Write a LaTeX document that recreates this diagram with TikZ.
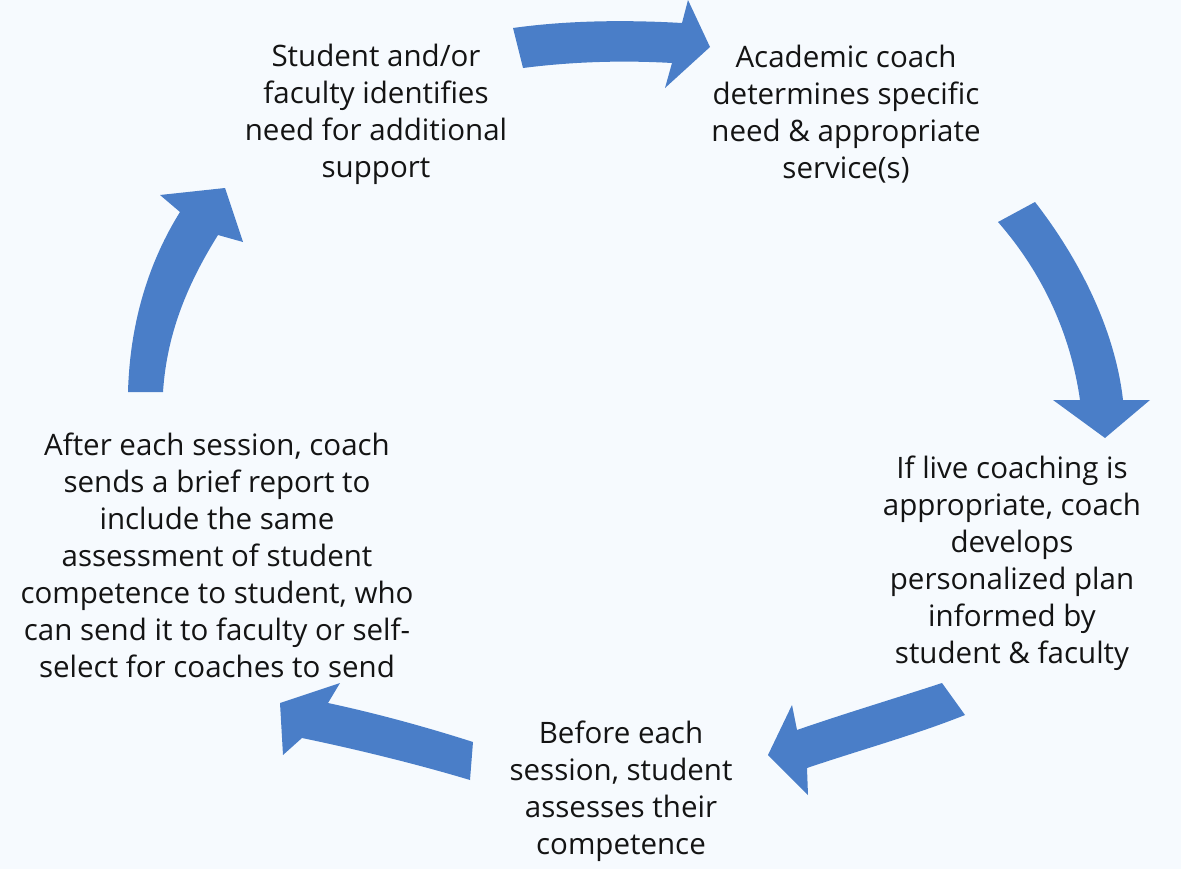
\documentclass[tikz,border=0pt]{standalone}
\usepackage{fontspec}
\setmainfont{Open Sans}
\definecolor{bg}{RGB}{246,250,254}
\definecolor{arrowblue}{RGB}{74,126,200}
\definecolor{txt}{RGB}{20,20,20}
\begin{document}
\begin{tikzpicture}[x=0.02cm,y=-0.02cm,
  lbl/.style={align=center, text=txt, inner sep=0pt,
    font=\fontsize{16.8pt}{21.07pt}\selectfont},
  blockarrow/.style={fill=arrowblue, draw=none}]
\fill[bg] (0,0) rectangle (1181,869);
\useasboundingbox (0,0) rectangle (1181,869);

\node[lbl] (n1) at (376,114) {Student and/or\\faculty identifies\\need for additional\\support};
\node[lbl] (n2) at (846,114) {Academic coach\\determines specific\\need \& appropriate\\service(s)};
\node[lbl] (n3) at (1012,563) {If live coaching is\\appropriate, coach\\develops\\personalized plan\\informed by\\student \& faculty};
\node[lbl] (n4) at (621,791) {Before each\\session, student\\assesses their\\competence};
\node[lbl] (n5) at (217,555) {After each session, coach\\sends a brief report to\\include the same\\assessment of student\\competence to student, who\\can send it to faculty or self-\\select for coaches to send};

% arrow 1 (top)
\fill[blockarrow] (513,28) .. controls (570,20) and (630,20) .. (682,23) -- (688,0) -- (710,47) -- (665,88) -- (672,63) .. controls (620,60) and (570,62) .. (523,68) -- cycle;
% arrow 2 (right)
\fill[blockarrow] (1035,202) .. controls (1080,260) and (1115,330) .. (1123,400) -- (1150,400) -- (1105,438) -- (1053,400) -- (1080,400) .. controls (1070,330) and (1040,270) .. (998,222) -- cycle;
% arrow 3 (bottom right)
\fill[blockarrow] (942,683) .. controls (890,700) and (840,715) .. (797,730) -- (792,705) -- (768,755) -- (808,795) -- (807,768) .. controls (860,750) and (915,735) .. (965,715) -- cycle;
% arrow 4 (bottom left)
\fill[blockarrow] (473,742) .. controls (420,725) and (370,712) .. (328,703) -- (340,683) -- (280,703) -- (283,755) -- (302,738) .. controls (360,750) and (420,765) .. (470,780) -- cycle;
% arrow 5 (left)
\fill[blockarrow] (128,392) .. controls (130,320) and (150,260) .. (180,212) -- (160,195) -- (225,188) -- (243,242) -- (218,235) .. controls (190,280) and (167,330) .. (163,392) -- cycle;
\end{tikzpicture}
\end{document}
